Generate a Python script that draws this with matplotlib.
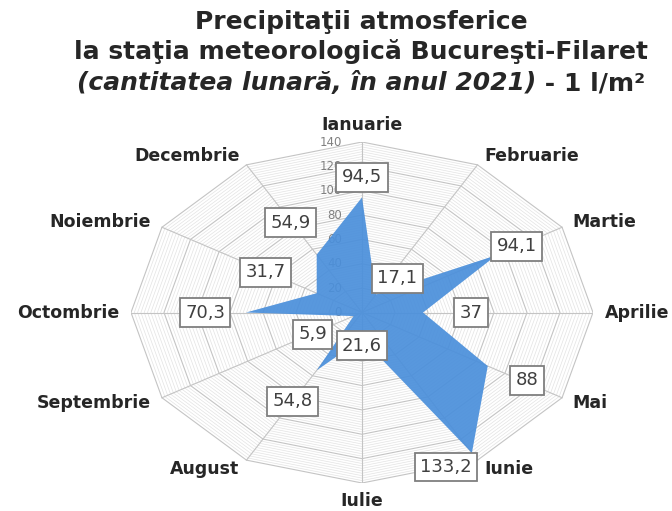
import numpy as np
import matplotlib
matplotlib.use("Agg")
import matplotlib.pyplot as plt

months = ["Ianuarie", "Februarie", "Martie", "Aprilie", "Mai", "Iunie",
          "Iulie", "August", "Septembrie", "Octombrie", "Noiembrie", "Decembrie"]
values = [94.5, 17.1, 94.1, 37, 88, 133.2, 21.6, 54.8, 5.9, 70.3, 31.7, 54.9]
value_labels = ["94,5", "17,1", "94,1", "37", "88", "133,2",
                "21,6", "54,8", "5,9", "70,3", "31,7", "54,9"]
radial_ticks = [0, 20, 40, 60, 80, 100, 120, 140]
rmax = 140

# label offsets in pixels (dx, dy with y up)
label_offsets = [(0, 20), (21, 16), (20, 9), (48, 0), (39, -14), (-26, -14),
                 (0, -7), (-24, -31), (-41, -18), (-41, 0), (-51, 21), (-26, 32)]

fig = plt.figure(figsize=(6.72, 5.11), dpi=100)
ax = fig.add_axes([131/672, 28/511, 462/672, 341/511])
ax.set_xlim(-rmax, rmax)
ax.set_ylim(-rmax, rmax)
ax.axis("off")

n = len(months)
ang = np.arange(n) * 2 * np.pi / n
sx, cy = np.sin(ang), np.cos(ang)

def ring(r):
    xs = np.append(r * sx, r * sx[0])
    ys = np.append(r * cy, r * cy[0])
    return xs, ys

# minor grid
for r in np.arange(2, rmax + 0.1, 2):
    if r % 20 == 0:
        continue
    xs, ys = ring(r)
    ax.plot(xs, ys, color="#e3e3e3", lw=0.5, zorder=1)
# major grid
for r in radial_ticks[1:]:
    xs, ys = ring(r)
    ax.plot(xs, ys, color="#c4c4c4", lw=0.8, zorder=1.2)
# spokes
for i in range(n):
    ax.plot([0, rmax * sx[i]], [0, rmax * cy[i]], color="#c4c4c4", lw=0.8, zorder=1.2)

# radial tick labels (under the fill)
for t in radial_ticks:
    ax.annotate(str(t), (0, t), xytext=(-20, 0), textcoords="offset pixels",
                ha="right", va="center", fontsize=8.5, color="#808080",
                family="DejaVu Sans", zorder=1.5)

# data polygon
v = np.array(values)
px = np.append(v * sx, v[0] * sx[0])
py = np.append(v * cy, v[0] * cy[0])
ax.fill(px, py, color="#4A8FDB", alpha=0.92, zorder=2, lw=0)

# month labels
for i, m in enumerate(months):
    s, c = sx[i], cy[i]
    if abs(s) < 1e-6:
        ha = "center"
        va = "bottom" if c > 0 else "top"
        off = (0, 8 if c > 0 else -9)
    else:
        ha = "left" if s > 0 else "right"
        va = "center"
        off = (10 * s + (2 if s > 0 else -2), 10 * c)
    ax.annotate(m, (rmax * s, rmax * c), xytext=off, textcoords="offset pixels",
                ha=ha, va=va, fontsize=12.5, fontweight="bold", color="#262626",
                family="DejaVu Sans", annotation_clip=False, zorder=5)

# value labels
for i, lab in enumerate(value_labels):
    dx, dy = label_offsets[i]
    ax.annotate(lab, (values[i] * sx[i], values[i] * cy[i]), xytext=(dx, dy),
                textcoords="offset pixels", ha="center", va="center",
                fontsize=13, color="#404040", family="DejaVu Sans",
                bbox=dict(boxstyle="square,pad=0.3", fc="white", ec="#7f7f7f", lw=1.3),
                zorder=6, annotation_clip=False)

# title
cx = 361 / 672
fs = 18
fig.text(cx, 1 - 22 / 511, "Precipitaţii atmosferice", ha="center", va="center",
         fontsize=fs, fontweight="bold", color="#262626", family="DejaVu Sans")
fig.text(cx, 1 - 52 / 511, "la staţia meteorologică Bucureşti-Filaret", ha="center",
         va="center", fontsize=fs, fontweight="bold", color="#262626", family="DejaVu Sans")
t1 = fig.text(0, 1 - 83 / 511, "(cantitatea lunară, în anul 2021)", ha="left", va="center",
              fontsize=fs, fontweight="bold", style="italic", color="#262626",
              family="DejaVu Sans")
t2 = fig.text(0, 1 - 83 / 511, " - 1 l/m²", ha="left", va="center",
              fontsize=fs, fontweight="bold", color="#262626", family="DejaVu Sans")
r = fig.canvas.get_renderer()
w1 = t1.get_window_extent(r).width / 672
w2 = t2.get_window_extent(r).width / 672
x0 = cx - (w1 + w2) / 2
t1.set_x(x0)
t2.set_x(x0 + w1)

fig.savefig("out.png", dpi=100)
